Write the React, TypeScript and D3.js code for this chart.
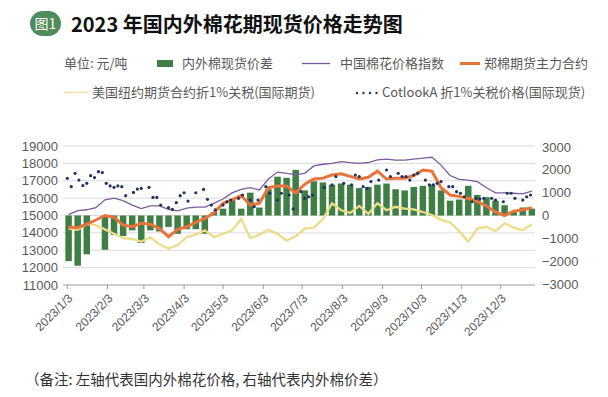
import * as d3 from "d3";

const W = 608;
const H = 397;
const CJK = '"Noto Sans CJK SC", "Noto Sans", sans-serif';
const NUM = '"Liberation Sans", Arial, sans-serif';

// weekly categories (Mondays of 2023)
const weeks = d3.timeMonday.range(new Date(2023, 0, 2), new Date(2023, 11, 31));

// 内外棉现货价差 (right axis), one value per week
const spread = [
  -2000, -2200, -1700, null, -1500, -850, -900, -650, -1200, -650, -700, -500, -800,
  -600, -600, -800, 150, 300, 700, 300, 1000, 350, 1150, 1700, 1650, 2000,
  1100, 1500, 1450, 1350, 1400, 1350, 1200, 1250, 1350, 1400, 1150, 1100, 1250,
  1300, 1350, 1100, 650, 700, 1300, 900, 800, 650, 450, 200, 350, 300,
];

// 中国棉花价格指数
const chinaIndex = [
  15050, 15280, 15330, 15450, 15900, 16000, 15850, 15600, 15400, 15550, 15550, 15350, 15270,
  15420, 15480, 15480, 15700, 15950, 16300, 16500, 16600, 16470, 17100, 17500, 17430, 17350,
  17430, 17850, 17950, 18000, 18100, 18040, 18000, 18050, 18200, 18250, 18190, 18190, 18250,
  18300, 18350, 17900, 17300, 17080, 17040, 16950, 16600, 16300, 16300, 16280, 16240, 16400,
];

// 郑棉期货主力合约
const zceFutures = [
  14320, 14300, 14500, 14740, 15000, 14900, 14450, 14360, 14550, 14500, 14250, 13780, 14200,
  14350, 14600, 14830, 15150, 15700, 15900, 16150, 15600, 15700, 16600, 16700, 16700, 16300,
  16800, 17100, 17150, 17330, 17400, 17250, 17100, 17200, 17550, 17100, 17140, 17150, 17300,
  17620, 17550, 16600, 16180, 16100, 15990, 15800, 15550, 15200, 15000, 15250, 15330, 15450,
];

// 美国纽约期货合约折1%关税
const nyFutures = [
  14250, 14170, 14500, 14450, 14200, 13950, 13700, 13650, 13500, 13750, 13350, 13100, 13300,
  13750, 13900, 14150, 13750, 13950, 14150, 14800, 13700, 13900, 14170, 13950, 13550, 13800,
  14250, 14300, 14800, 15700, 15300, 15150, 15550, 15100, 15700, 15300, 15500, 15400, 15350,
  15200, 15030, 14750, 14600, 14100, 13500, 14250, 14350, 14100, 14550, 14300, 14150, 14500,
];

// CotlookA 折1%关税价格, sampled every 3 days from 2023/1/3
const cotlookStart = new Date(2023, 0, 3);
const cotlook = [
  17140, 16660, 17430, 17040, 16720, 16850, 17290, 17180, 17520, 17470, 16850, 16700, 16620,
  16700, 16660, 16140, null, 16330, 16520, 16560, null, 16620, 16040, 16040, 15600, null,
  15450, 15350, 15740, 16140, 16310, 15830, null, 16310, null, 16500, 15930, 15600, 15320,
  null, 15600, 15790, 15890, null, 15990, 16180, null, 15890, 15510, 15890, null, 16660,
  16280, null, 15890, 16280, null, 16180, 15380, null, 16370, 15990, 16080, 16180, null,
  null, 16600, null, 16760, 17240, null, 16850, null, 16760, 17330, 17240, 16660, 16560,
  16950, null, 17040, null, 17620, 17240, null, 17430, 17240, 17240, 17040, 17330, 17430,
  null, 17040, 16760, 16760, 16850, 16950, null, 16660, 16660, 16370, 16280, 16080, null,
  15790, 15990, 15950, 15990, null, 15990, 15890, null, 15790, 16280, 16280, 15990, null,
  15890, 16080, 16180, null,
];

const leftTicks = [11000, 12000, 13000, 14000, 15000, 16000, 17000, 18000, 19000];
const rightTicks = [-3000, -2000, -1000, 0, 1000, 2000, 3000];
const monthTicks = d3.range(12).map((m) => new Date(2023, m, 3));

const DAY = 864e5;
const x = d3
  .scaleTime()
  .domain([new Date(2023, 0, 3), new Date(2023, 11, 3)])
  .range([67.3, 500.7]);
const yL = d3.scaleLinear().domain([11000, 19000]).range([285, 146]);
const yR = d3.scaleLinear().domain([-3000, 3000]).range([284, 147]);
const plotLeft = 63;
const plotRight = 535;

const mid = (w: Date) => new Date(w.getTime() + 2 * DAY);

function seriesPath(values: (number | null)[]) {
  const line = d3
    .line<number | null>()
    .defined((v) => v != null)
    .x((_, i) => x(mid(weeks[i])))
    .y((v) => yL(v as number));
  return line(values) || "";
}

const fmt = (v: number) => (v < 0 ? "\u2212" + Math.abs(v) : String(v));

export default function App() {
  return (
    <svg
      width={W}
      height={H}
      style={{ position: "absolute", left: 0, top: 0, background: "#fff" }}
    >
      {/* title */}
      <rect x={30} y={11} width={31} height={25} rx={12.5} fill="#4f8c5b" />
      <text x={45.5} y={28.5} textAnchor="middle" fontSize={14} fill="#fff" fontFamily={CJK}>
        图1
      </text>
      <text x={71} y={32} fontSize={20} fontWeight="bold" fill="#111" fontFamily={CJK}>
        2023 年国内外棉花期现货价格走势图
      </text>

      {/* legend */}
      <g fontSize={13} fill="#595959" fontFamily={CJK}>
        <text x={64} y={68}>单位: 元/吨</text>
        <rect x={157} y={60} width={16} height={7} fill="#3f7f46" />
        <text x={182} y={68}>内外棉现货价差</text>
        <line x1={302} x2={330} y1={63.5} y2={63.5} stroke="#7b5c9c" strokeWidth={1.3} />
        <text x={340} y={68}>中国棉花价格指数</text>
        <line x1={460} x2={480} y1={63.5} y2={63.5} stroke="#e8743b" strokeWidth={3} />
        <text x={484} y={68}>郑棉期货主力合约</text>
        <line
          x1={64}
          x2={88}
          y1={92.5}
          y2={92.5}
          stroke="#e8d878"
          strokeWidth={1.6}
          strokeDasharray="2 1"
        />
        <text x={92} y={97}>美国纽约期货合约折1%关税(国际期货)</text>
        {[0, 1, 2, 3].map((i) => (
          <circle key={i} cx={357 + i * 6.5} cy={93} r={1.2} fill="#22335e" />
        ))}
        <text x={382} y={97}>CotlookA 折1%关税价格(国际现货)</text>
      </g>

      {/* grid */}
      {leftTicks.slice(1).map((t) => (
        <line
          key={t}
          x1={plotLeft}
          x2={plotRight}
          y1={yL(t)}
          y2={yL(t)}
          stroke="#d9d9d9"
          strokeWidth={1}
        />
      ))}

      {/* bars */}
      {spread.map((v, i) =>
        v == null ? null : (
          <rect
            key={i}
            x={x(new Date(weeks[i].getTime() - 0.5 * DAY))}
            width={x(new Date(weeks[i].getTime() + 4.5 * DAY)) - x(new Date(weeks[i].getTime() - 0.5 * DAY))}
            y={Math.min(yR(v), yR(0))}
            height={Math.abs(yR(v) - yR(0))}
            fill="#3f7f46"
          />
        )
      )}

      {/* lines */}
      <path d={seriesPath(nyFutures)} fill="none" stroke="#ebdc88" strokeWidth={2.3} />
      <path d={seriesPath(chinaIndex)} fill="none" stroke="#7b5c9c" strokeWidth={1.3} />
      <path d={seriesPath(zceFutures)} fill="none" stroke="#e8743b" strokeWidth={3} />
      {cotlook.map((v, i) =>
        v == null ? null : (
          <circle
            key={i}
            cx={x(new Date(cotlookStart.getTime() + 3 * i * DAY))}
            cy={yL(v)}
            r={1.6}
            fill="#22335e"
          />
        )
      )}

      {/* x axis */}
      <line x1={plotLeft} x2={plotRight} y1={yL(11000)} y2={yL(11000)} stroke="#999" strokeWidth={1} />
      {monthTicks.map((d, i) => (
        <g key={i}>
          <line x1={x(d)} x2={x(d)} y1={yL(11000)} y2={yL(11000) + 4} stroke="#999" />
          <text
            transform={`translate(${x(d) + 6},${yL(11000) + 14}) rotate(-45)`}
            textAnchor="end"
            fontSize={12}
            fill="#595959"
            fontFamily={NUM}
          >
            {`2023/${i + 1}/3`}
          </text>
        </g>
      ))}

      {/* left axis labels */}
      {leftTicks.map((t) => (
        <text
          key={t}
          x={58}
          y={yL(t)}
          dy="0.35em"
          textAnchor="end"
          fontSize={13}
          fill="#595959"
          fontFamily={NUM}
        >
          {t}
        </text>
      ))}

      {/* right axis labels */}
      {rightTicks.map((t) => (
        <text
          key={t}
          x={542}
          y={yR(t)}
          dy="0.35em"
          fontSize={13}
          fill="#595959"
          fontFamily={NUM}
        >
          {fmt(t)}
        </text>
      ))}

      {/* note */}
      <text x={25} y={385} fontSize={14.5} fill="#333" fontFamily={CJK}>
        （备注: 左轴代表国内外棉花价格, 右轴代表内外棉价差）
      </text>
    </svg>
  );
}
